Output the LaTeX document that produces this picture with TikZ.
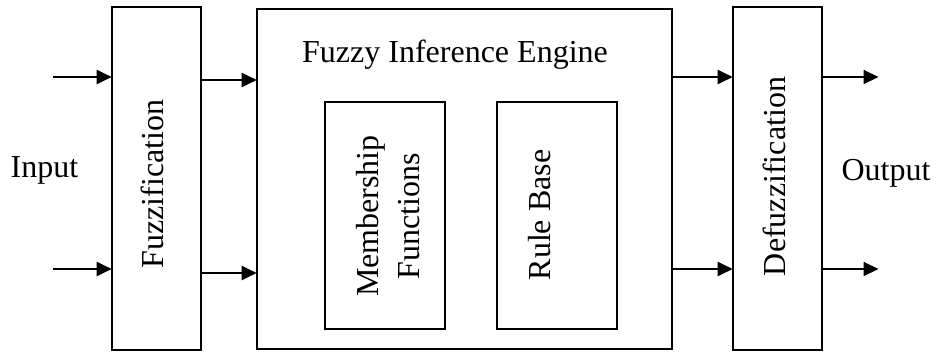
\documentclass[tikz,border=0pt]{standalone}
\usepackage{fontspec}
\setmainfont{Liberation Serif}
\usetikzlibrary{arrows.meta}
\begin{document}
\begin{tikzpicture}[x=1pt,y=-1pt,
  box/.style={draw, line width=1.6pt, inner sep=0pt},
  lbl/.style={font=\fontsize{32}{38}\selectfont, inner sep=0pt},
  arr/.style={line width=2pt, -{Triangle[length=15pt,width=14pt]}, shorten >=-0.5pt}]
\useasboundingbox (0,0) rectangle (941,354);
% boxes
\node[box, minimum width=89pt, minimum height=343pt] (fuzz) at (156.5,178.5) {};
\node[box, minimum width=415pt, minimum height=340pt] (eng) at (464.5,179) {};
\node[box, minimum width=120pt, minimum height=227pt] (mf) at (385,215.5) {};
\node[box, minimum width=120pt, minimum height=227pt] (rb) at (557,215.5) {};
\node[box, minimum width=89pt, minimum height=343pt] (defuzz) at (777.5,178.5) {};
% texts
\node[lbl, rotate=90, anchor=base] (tfuzz) at (163,184) {Fuzzification};
\node[lbl, rotate=90, anchor=base] (tdefuzz) at (785,176.5) {Defuzzification};
\node[lbl, rotate=90, anchor=base] (trb) at (550,215) {Rule Base};
\node[lbl, rotate=90, align=center, font=\fontsize{32}{41}\selectfont] (tmf) at (388,216) {Membership\\Functions};
\node[lbl, anchor=base] (teng) at (455,62) {Fuzzy Inference Engine};
\node[lbl, anchor=base] (tin) at (44.5,177) {Input};
\node[lbl, anchor=base] (tout) at (886,180) {Output};
% arrow coordinates
\coordinate (in1) at (53,77);
\coordinate (in2) at (53,269);
\coordinate (fe1) at (201,80);
\coordinate (fe2) at (201,273);
\coordinate (ed1) at (673,77);
\coordinate (ed2) at (673,269);
\coordinate (out1) at (878,77);
\coordinate (out2) at (878,269);
% arrows
\draw[arr] (in1) -- (in1 -| fuzz.west);
\draw[arr] (in2) -- (in2 -| fuzz.west);
\draw[arr] (fe1) -- (fe1 -| eng.west);
\draw[arr] (fe2) -- (fe2 -| eng.west);
\draw[arr] (ed1) -- (ed1 -| defuzz.west);
\draw[arr] (ed2) -- (ed2 -| defuzz.west);
\draw[arr] (out1 -| defuzz.east) -- (out1);
\draw[arr] (out2 -| defuzz.east) -- (out2);
\end{tikzpicture}
\end{document}
